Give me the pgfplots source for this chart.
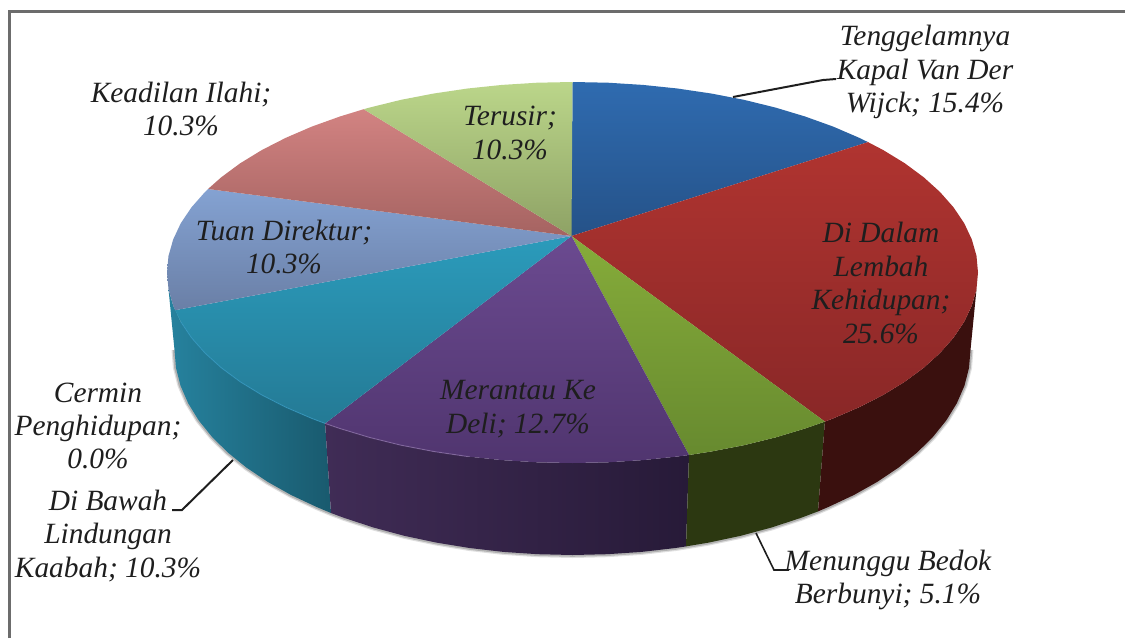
\documentclass[border=0pt]{standalone}
\usepackage{pgfplots}
\pgfplotsset{compat=1.18}
\usepackage{pgfplotstable}
\usepackage{fontspec}
\setmainfont{Liberation Serif}
\definecolor{txt}{HTML}{1E1E1E}
\definecolor{blueT}{HTML}{2F6BB0}\definecolor{blueB}{HTML}{255288}
\definecolor{redT}{HTML}{B03430}\definecolor{redB}{HTML}{892727}
\definecolor{greenT}{HTML}{86AC3A}\definecolor{greenB}{HTML}{678A2F}
\definecolor{purpT}{HTML}{6B4A90}\definecolor{purpB}{HTML}{50356F}
\definecolor{tealT}{HTML}{2B9BBB}\definecolor{tealB}{HTML}{247A95}
\definecolor{lbT}{HTML}{84A2D2}\definecolor{lbB}{HTML}{6A7FA6}
\definecolor{salT}{HTML}{D28382}\definecolor{salB}{HTML}{A56361}
\definecolor{lgT}{HTML}{BBD68A}\definecolor{lgB}{HTML}{8EA265}
\definecolor{wTealL}{HTML}{26829E}\definecolor{wTealR}{HTML}{195A6E}
\definecolor{wPurpL}{HTML}{402C56}\definecolor{wPurpR}{HTML}{271A38}
\definecolor{wGreen}{HTML}{2C3811}
\definecolor{wRed}{HTML}{3A100E}
\pgfplotstableread{
x y
174.5 350
176 367.9
180.5 385.6
188.1 403.1
198.5 420.1
211.8 436.6
227.8 452.5
246.5 467.6
267.6 481.8
291.1 495
316.7 507.0
331 513
344.2 517.9
373.5 527.5
404.3 535.8
436.4 542.6
469.5 548.0
503.4 551.9
537.8 554.2
572.5 555
607.2 554.2
641.6 551.9
675.5 548.0
686 546.4
708.6 542.6
740.7 535.8
771.5 527.5
800.8 517.9
818 511.4
828.3 507.0
853.9 495
877.4 481.8
898.5 467.6
917.2 452.5
933.2 436.6
946.5 420.1
956.9 403.1
964.5 385.6
969 367.9
970.5 350
}\bottomarc
\begin{document}
\begin{tikzpicture}
\begin{axis}[
  width=562.5pt, height=319pt, scale only axis,
  xmin=0, xmax=1125, ymin=0, ymax=638, y dir=reverse,
  hide axis, clip=true,
  nodes={font=\fontsize{14.7}{16.7}\selectfont\itshape, text=txt, align=center, inner sep=0pt}
]
% page extent
\path[draw=white, line width=0pt] (axis cs:0,0) rectangle (axis cs:1125,638);
% frame
\addplot[draw=gray!85!black, line width=1.5pt] coordinates {(9,638) (9,11) (1125,11)};
% shadow under the wall
\addplot[draw=gray!25, line width=3pt] table {\bottomarc};
\addplot[draw=gray!60, line width=1.8pt] table {\bottomarc};
% walls
\addplot[draw=none, left color=wTealL, right color=wTealR] coordinates {
(325.1,423.4)(311.8,418.4)(285.8,407.2)(261.9,395)(240.3,381.8)(221.3,367.75)(205,353)(191.5,337.7)(180.8,321.8)(173.2,305.6)(168.5,289.1)
(174.5,350)(176,367.9)(180.5,385.6)(188.1,403.1)(198.5,420.1)(211.8,436.6)(227.8,452.5)(246.5,467.6)(267.6,481.8)(291.1,495)(316.7,507.0)(331,513)} --cycle;
\addplot[draw=none, left color=wPurpL, right color=wPurpR] coordinates {
(689,455)(677.45,456.5)(642.9,460.1)(607.8,462.3)(572.5,463)(537.2,462.3)(502.1,460.1)(467.55,456.5)(433.8,451.5)(401.1,445.2)(369.75,437.5)(339.9,428.5)(325.1,423.4)
(331,513)(344.2,517.9)(373.5,527.5)(404.3,535.8)(436.4,542.6)(469.5,548.0)(503.4,551.9)(537.8,554.2)(572.5,555)(607.2,554.2)(641.6,551.9)(675.5,548.0)(686,546.4)} --cycle;
\addplot[draw=none, fill=wGreen] coordinates {
(824.9,421.6)(805.1,428.5)(775.25,437.5)(743.9,445.2)(711.2,451.5)(689,455)
(686,546.4)(708.6,542.6)(740.7,535.8)(771.5,527.5)(800.8,517.9)(818,511.4)} --cycle;
\addplot[draw=none, fill=wRed] coordinates {
(976.5,289.1)(971.8,305.6)(964.2,321.8)(953.5,337.7)(940,353)(923.7,367.75)(904.7,381.8)(883.1,395)(859.2,407.2)(833.2,418.4)(824.9,421.6)
(818,511.4)(828.3,507.0)(853.9,495)(877.4,481.8)(898.5,467.6)(917.2,452.5)(933.2,436.6)(946.5,420.1)(956.9,403.1)(964.5,385.6)(969,367.9)(970.5,350)} --cycle;
% top face
\addplot[draw=none, top color=blueT, bottom color=blueB] coordinates {
(571.5,236)(572.5,82)(607.8,82.7)(642.9,84.9)(677.45,88.5)(711.2,93.5)(743.9,99.8)(775.25,107.5)(805.1,116.5)(833.2,126.6)(859.2,137.8)(868,142.1)} --cycle;
\addplot[draw=none, top color=redT, bottom color=redB] coordinates {
(571.5,236)(868,142.1)(883.1,150)(904.7,163.2)(923.7,177.25)(940,192)(953.5,207.3)(964.2,223.2)(971.8,239.4)(976.5,255.9)(978,272.5)(976.5,289.1)(971.8,305.6)(964.2,321.8)(953.5,337.7)(940,353)(923.7,367.75)(904.7,381.8)(883.1,395)(859.2,407.2)(833.2,418.4)(824.9,421.6)} --cycle;
\addplot[draw=none, top color=greenT, bottom color=greenB] coordinates {
(571.5,236)(824.9,421.6)(805.1,428.5)(775.25,437.5)(743.9,445.2)(711.2,451.5)(689,455)} --cycle;
\addplot[draw=none, top color=purpT, bottom color=purpB] coordinates {
(571.5,236)(689,455)(677.45,456.5)(642.9,460.1)(607.8,462.3)(572.5,463)(537.2,462.3)(502.1,460.1)(467.55,456.5)(433.8,451.5)(401.1,445.2)(369.75,437.5)(339.9,428.5)(325.1,423.4)} --cycle;
\addplot[draw=none, top color=tealT, bottom color=tealB] coordinates {
(571.5,236)(325.1,423.4)(311.8,418.4)(285.8,407.2)(261.9,395)(240.3,381.8)(221.3,367.75)(205,353)(191.5,337.7)(180.8,321.8)(175.1,310.2)} --cycle;
\addplot[draw=none, top color=lbT, bottom color=lbB] coordinates {
(571.5,236)(175.1,310.2)(173.2,305.6)(168.5,289.1)(167,272.5)(168.5,255.9)(173.2,239.4)(180.8,223.2)(191.5,207.3)(205,192)(208,189)} --cycle;
\addplot[draw=none, top color=salT, bottom color=salB] coordinates {
(571.5,236)(208,189)(221.3,177.25)(240.3,163.2)(261.9,150)(285.8,137.8)(311.8,126.6)(339.9,116.5)(363.7,109.2)} --cycle;
\addplot[draw=none, top color=lgT, bottom color=lgB] coordinates {
(571.5,236)(363.7,109.2)(369.75,107.5)(401.1,99.8)(433.8,93.5)(467.55,88.5)(502.1,84.9)(537.2,82.7)(572.5,82)} --cycle;
% rim highlights
\addplot[draw=cyan!50!teal, line width=.5pt, opacity=.7] coordinates {(325.1,423.4)(311.8,418.4)(285.8,407.2)(261.9,395)(240.3,381.8)(221.3,367.75)(205,353)(191.5,337.7)(180.8,321.8)};
\addplot[draw=purpT!80!white, line width=.5pt, opacity=.7] coordinates {(325.1,423.4)(339.9,428.5)(369.75,437.5)(401.1,445.2)(433.8,451.5)(467.55,456.5)};
% leader lines
\addplot[draw=txt, line width=1pt] coordinates {(733,97)(823,80)(836,79)};
\addplot[draw=txt, line width=1pt] coordinates {(233,460)(182,510)(172,510)};
\addplot[draw=txt, line width=.8pt] coordinates {(756,533)(774,570)(789,570)};
% labels
\node at (axis cs:925,72) {Tenggelamnya\\Kapal Van Der\\Wijck; 15.4\%};
\node at (axis cs:881,283) {Di Dalam\\Lembah\\Kehidupan;\\25.6\%};
\node at (axis cs:181,109) {Keadilan Ilahi;\\10.3\%};
\node at (axis cs:510,133) {Terusir;\\10.3\%};
\node at (axis cs:284,247) {Tuan Direktur;\\10.3\%};
\node at (axis cs:518,409) {Merantau Ke\\Deli; 12.7\%};
\node at (axis cs:98,426) {Cermin\\Penghidupan;\\0.0\%};
\node at (axis cs:108,536) {Di Bawah\\Lindungan\\Kaabah; 10.3\%};
\node at (axis cs:888,580) {Menunggu Bedok\\Berbunyi; 5.1\%};
\end{axis}
\end{tikzpicture}
\end{document}
